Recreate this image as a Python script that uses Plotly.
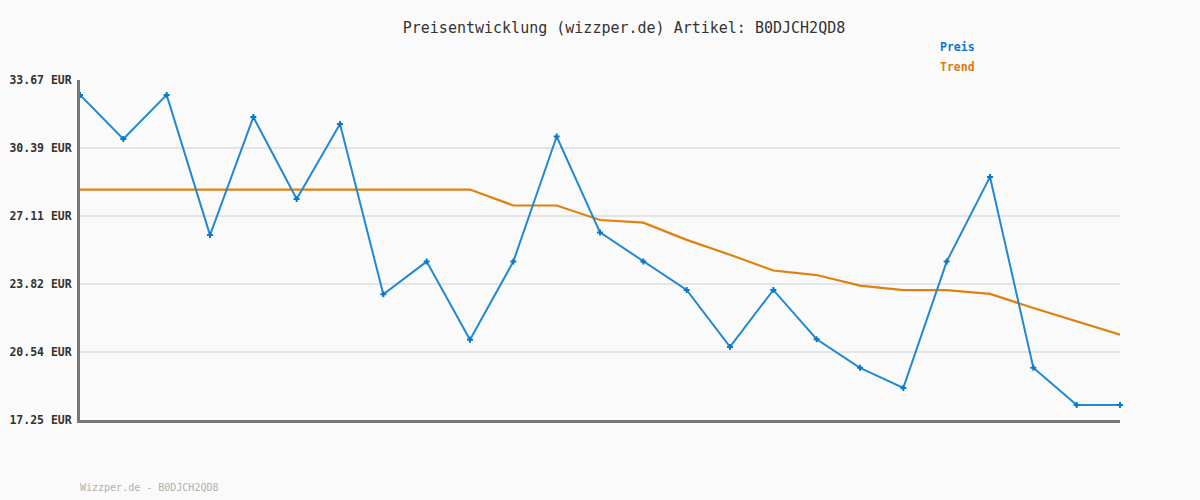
import plotly.graph_objects as go

# Data
x_idx = list(range(25))
preis = [32.95, 30.82, 32.95, 26.18, 31.88, 27.92, 31.54, 23.32, 24.90, 21.13,
         24.90, 30.94, 26.31, 24.90, 23.53, 20.78, 23.53, 21.15, 19.77, 18.80,
         24.90, 28.99, 19.77, 17.97, 17.97]
trend = [28.38, 28.38, 28.38, 28.38, 28.38, 28.38, 28.38, 28.38, 28.38, 28.38,
         27.61, 27.61, 26.91, 26.78, 25.95, 25.23, 24.47, 24.25, 23.74, 23.52,
         23.52, 23.34, 22.66, 22.00, 21.37]
tick_vals = [17.25, 20.54, 23.82, 27.11, 30.39, 33.67]
tick_text = ["17.25 EUR", "20.54 EUR", "23.82 EUR", "27.11 EUR", "30.39 EUR", "33.67 EUR"]

title_text = "Preisentwicklung (wizzper.de) Artikel: B0DJCH2QD8"
footer_text = "Wizzper.de - B0DJCH2QD8"

MONO = "DejaVu Sans Mono, Liberation Mono, monospace"
BLUE_LINE = "#2289d1"
BLUE_MARK = "#0a78c8"
ORANGE = "#e0800f"
BG = "#fafafa"

fig = go.Figure()
fig.add_trace(go.Scatter(
    x=x_idx, y=trend, mode="lines", name="Trend",
    line=dict(color=ORANGE, width=2.2), cliponaxis=False, showlegend=False,
))
fig.add_trace(go.Scatter(
    x=x_idx, y=preis, mode="lines+markers", name="Preis",
    line=dict(color=BLUE_LINE, width=2),
    marker=dict(symbol="cross", size=5, color=BLUE_MARK),
    cliponaxis=False, showlegend=False,
))

fig.update_layout(
    width=1200, height=500,
    margin=dict(l=80, r=80, t=80, b=80, autoexpand=False),
    paper_bgcolor=BG, plot_bgcolor=BG,
    title=dict(text=title_text, x=0.52, xanchor="center", y=0.944, yanchor="middle",
               font=dict(family=MONO, size=15, color="#333333"), automargin=False),
    xaxis=dict(range=[0, 24], showticklabels=False, showgrid=False, zeroline=False,
               showline=True, linecolor="#777777", linewidth=3, ticks="",
               automargin=False),
    yaxis=dict(range=[17.25, 33.67], tickvals=tick_vals, ticktext=tick_text,
               showgrid=True, gridcolor="#e4e4e4", gridwidth=2, zeroline=False,
               showline=True, linecolor="#777777", linewidth=3, ticks="",
               ticklabelstandoff=3, automargin=False,
               tickfont=dict(family=MONO, size=11.5, color="#333333", weight="bold")),
)

# annotation positions given in page pixels, converted to paper coords
labels = [
    ("<b>Preis</b>", 957, 47, "center", dict(family=MONO, size=11.5, color="#0a78c8")),
    ("<b>Trend</b>", 957, 67, "center", dict(family=MONO, size=11.5, color="#dd7a10")),
    (footer_text, 78, 487, "left", dict(family=MONO, size=10, color="#b0b0b0")),
]
for text, px, py, xa, font in labels:
    fig.add_annotation(text=text, x=(px - 80) / 1040, y=(420 - py) / 340,
                       xref="paper", yref="paper", xanchor=xa, yanchor="middle",
                       showarrow=False, font=font)

fig.write_html(
    "out.html",
    config={"displayModeBar": False},
    post_script="document.body.style.margin='0';document.body.style.background='%s';" % BG,
)
